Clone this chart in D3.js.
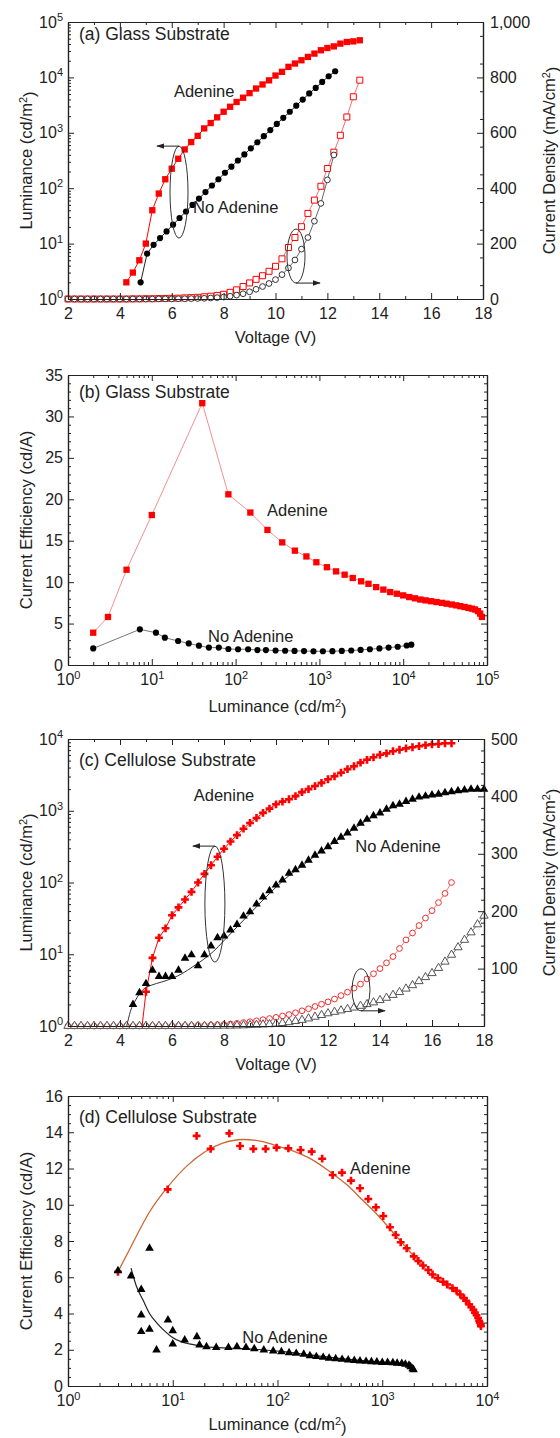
<!DOCTYPE html>
<html>
<head>
<meta charset="utf-8">
<script src="https://cdn.jsdelivr.net/npm/d3@7"></script>
<style>
body { margin: 0; background: #fff; }
</style>
</head>
<body>
<div id="chart"></div>
<script>
// ---------- data ----------

// (a) glass substrate, luminance vs voltage
var voltAdA = [4.25,4.5,4.75,5,5.25,5.5,5.75,6,6.25,6.5,6.75,7,7.25,7.5,7.75,8,8.25,8.5,8.75,9,9.25,9.5,9.75,10,10.25,10.5,10.75,11,11.25,11.5,11.75,12,12.25,12.5,12.75,13,13.25];
var lumAdA = [2,3,5,10,40,80,145,225,340,500,680,880,1200,1500,1900,2400,2950,3600,4300,5200,6300,7450,8850,10800,12600,15500,17800,20400,23400,26900,30900,33900,36300,40700,43600,44700,46800];
var voltNoA = [4.8,5.05,5.3,5.55,5.8,6.05,6.3,6.55,6.8,7.05,7.3,7.55,7.8,8.05,8.3,8.55,8.8,9.05,9.3,9.55,9.8,10.05,10.3,10.55,10.8,11.05,11.3,11.55,11.8,12.05,12.3];
var lumNoA = [2,6.6,9.5,12.6,16.6,22,29,38,50,65,85,112,145,190,245,316,407,525,676,870,1120,1445,1860,2400,3090,3980,5130,6460,8300,10500,12900];
// (a) current density vs voltage
var voltJAdA = [2,2.25,2.5,2.75,3,3.25,3.5,3.75,4,4.25,4.5,4.75,5,5.25,5.5,5.75,6,6.25,6.5,6.75,7,7.25,7.5,7.75,8,8.25,8.5,8.75,9,9.25,9.5,9.75,10,10.25,10.5,10.75,11,11.25,11.5,11.75,12,12.25,12.5,12.75,13,13.25];
var jAdA = [0,0,0,0,0,0,0,0,0,0,0.5,0.5,1,1,1.5,2,2.5,3,4,5,6,8,10,13,17,24,33,45,58,71,84,100,118,145,186,222,261,309,357,407,471,530,591,657,730,790];
var voltJNoA = [2,2.25,2.5,2.75,3,3.25,3.5,3.75,4,4.25,4.5,4.75,5,5.25,5.5,5.75,6,6.25,6.5,6.75,7,7.25,7.5,7.75,8,8.25,8.5,8.75,9,9.25,9.5,9.75,10,10.25,10.5,10.75,11,11.25,11.5,11.75,12,12.25];
var jNoA = [0,0,0,0,0,0,0,0,0,0,0,0,0,0,0.5,0.5,0.5,1,1,1.5,2,2.5,3.5,5,7,10,14,19,26,35,45,56,70,88,112,141,180,222,281,345,430,520];

// (b) glass substrate, efficiency vs luminance
var lumAdB = [2,3,5,10,40,82,150,240,360,510,700,920,1230,1580,2000,2500,3150,3850,4750,5800,7000,8400,10000,11800,13800,16000,18500,21500,25000,29000,33000,38000,43000,48000,54000,60000,66000,72000,78000,83000,87000];
var ceAdB = [3.9,5.8,11.5,18.1,31.6,20.6,18.4,16.3,14.8,13.8,13.1,12.4,11.8,11.3,10.9,10.5,10.1,9.8,9.4,9.1,8.8,8.6,8.4,8.2,8.05,7.9,7.8,7.7,7.6,7.5,7.4,7.3,7.2,7.1,7.0,6.9,6.8,6.7,6.5,6.2,5.8];
var lumNoB = [2,7.2,11.2,14.3,20.6,27.6,36.5,48,63,82,107,141,182,230,300,390,505,655,850,1100,1430,1850,2400,3100,4000,5200,6700,8600,11000,12500];
var ceNoB = [2.0,4.3,3.9,3.3,2.9,2.6,2.33,2.1,2.1,1.93,1.9,1.9,1.8,1.8,1.75,1.72,1.7,1.68,1.66,1.66,1.67,1.7,1.75,1.82,1.9,2.0,2.1,2.2,2.35,2.45];

// (c) cellulose substrate, luminance vs voltage
var voltAdC = [5,5.25,5.5,5.75,6,6.25,6.5,6.75,7,7.25,7.5,7.75,8,8.25,8.5,8.75,9,9.25,9.5,9.75,10,10.25,10.5,10.75,11,11.25,11.5,11.75,12,12.25,12.5,12.75,13,13.25,13.5,13.75,14,14.25,14.5,14.75,15,15.25,15.5,15.75,16,16.25,16.5,16.75];
var lumAdC = [3.0,8.9,17,23,35,45,58,74,100,132,174,229,295,372,457,562,676,794,933,1070,1230,1340,1445,1600,1820,2000,2210,2450,2750,3020,3390,3800,4170,4680,5130,5560,6030,6310,6760,7080,7410,7670,7940,8220,8410,8510,8710,8710];
var onsetAdC = [4.85, 1]; // where the red trace leaves the axis
var voltNoC = [4.5,4.75,5,5.25,5.5,5.75,6,6.25,6.5,6.75,7,7.25,7.5,7.75,8,8.25,8.5,8.75,9,9.25,9.5,9.75,10,10.25,10.5,10.75,11,11.25,11.5,11.75,12,12.25,12.5,12.75,13,13.25,13.5,13.75,14,14.25,14.5,14.75,15,15.25,15.5,15.75,16,16.25,16.5,16.75,17,17.25,17.5,17.75,18];
var lumNoC = [2.0,2.9,3.9,6.0,4.9,4.9,4.9,6.0,8.8,9.8,6.9,9.8,13,17,18,21.8,26,34,39,50,63,77,92,108,135,151,174,204,240,275,316,372,427,490,569,668,759,851,933,1047,1175,1230,1350,1445,1550,1600,1660,1700,1780,1840,1905,1950,1995,2000,2000];
var voltFitNoC = [4.26,4.4,4.6,4.88,5.2,5.6,6.0,6.4,6.8,7.2,7.6,8.0,8.5,9,9.5,10,10.5,11,11.5,12,12.5,13,13.5,14,14.5,15,15.5,16,16.5,17,17.5,18];
var lumFitNoC = [1,1.6,2.3,3.2,3.7,4.1,4.6,5.4,6.7,8.4,11,15.5,24,37,57,86,125,170,235,315,420,560,740,930,1120,1320,1510,1660,1780,1890,1970,2010];
// (c) current density vs voltage
var voltJAdC = [2,2.25,2.5,2.75,3,3.25,3.5,3.75,4,4.25,4.5,4.75,5,5.25,5.5,5.75,6,6.25,6.5,6.75,7,7.25,7.5,7.75,8,8.25,8.5,8.75,9,9.25,9.5,9.75,10,10.25,10.5,10.75,11,11.25,11.5,11.75,12,12.25,12.5,12.75,13,13.25,13.5,13.75,14,14.25,14.5,14.75,15,15.25,15.5,15.75,16,16.25,16.5,16.75];
var jAdC = [0,0,0,0,0,0,0,0,0,0,0,0,0,0,0,0,0,0.5,0.5,0.5,1,1,1.5,2,2.5,3.5,4.5,6,7.5,9,11,13,15,17.5,20,23,26.5,30,34,38,42,47,53,59,66,73,82,91,100,110,121,135,150,162,175,188,201,215,231,250];
var voltJNoC = [2,2.25,2.5,2.75,3,3.25,3.5,3.75,4,4.25,4.5,4.75,5,5.25,5.5,5.75,6,6.25,6.5,6.75,7,7.25,7.5,7.75,8,8.25,8.5,8.75,9,9.25,9.5,9.75,10,10.25,10.5,10.75,11,11.25,11.5,11.75,12,12.25,12.5,12.75,13,13.25,13.5,13.75,14,14.25,14.5,14.75,15,15.25,15.5,15.75,16,16.25,16.5,16.75,17,17.25,17.5,17.75,18];
var jNoC = [0,0,0,0,0,0,0,0,0,0,0,0,0,0,0,0,0,0,0,0,0,0,0.2,0.3,0.5,0.5,0.8,1,1.5,2,2.5,3,4,5,6.5,8.5,10.5,13,16,19,22,24.5,27,29.5,32,35,38,41,45,49,54,59,65,71,78,85,92,101,112,124,137,150,163,177,192];

// (d) cellulose substrate, efficiency vs luminance
var lumAdD = [3,8.95,16.9,23,34.7,43.9,58.8,77,98,127,166,212,267,336,413,503,613,736,871,1023,1186,1343,1500,1711,2000,2210,2450,2750,3020,3390,3800,4170,4680,5130,5560,6030,6310,6760,7080,7410,7670,7940,8220,8410,8510,8710,8750];
var ceAdD = [6.3,10.85,13.8,13.08,13.94,13.24,13.08,13.08,13.15,13.11,13.02,12.93,12.54,11.64,11.77,11.33,10.91,10.32,9.86,9.38,8.76,8.33,7.93,7.6,7.15,6.9,6.65,6.4,6.15,5.95,5.75,5.6,5.4,5.25,5.05,4.85,4.7,4.5,4.35,4.2,4.05,3.9,3.75,3.6,3.5,3.4,3.3];
var lumFitAdD = [3,4,6,9,14,20,30,47,70,105,150,220,320,460,650,950,1300,1710,2300,3000,4000,5000,6000,7000,8000,8700];
var ceFitAdD = [6.3,7.7,9.6,11.0,12.2,12.9,13.4,13.6,13.5,13.2,12.9,12.45,11.8,11.1,10.25,9.3,8.4,7.6,6.8,6.1,5.6,5.2,4.85,4.4,3.9,3.4];
var lumNoD = [3,4,5,5,5,6,6,7,9,10,10,13,17,18,21,26,34,41,50,60,74,91,109,129,151,178,204,235,273,311,359,414,473,541,613,700,788,888,1000,1124,1262,1387,1537,1663,1800,1865,1950,1990];
var ceNoD = [6.36,6.07,5.33,3.92,3.0,7.6,3.13,1.99,3.64,3.05,2.32,2.54,2.72,2.26,2.17,2.13,2.13,2.17,2.13,2.06,1.99,1.93,1.89,1.84,1.80,1.75,1.67,1.62,1.58,1.53,1.50,1.47,1.44,1.41,1.38,1.36,1.34,1.32,1.30,1.30,1.28,1.26,1.24,1.20,1.15,1.06,0.95,0.90];
var lumFitNoD = [4,4.5,5.2,6,7.1,8.5,9.7,12,14.4,20,25,40,70,120,200,350,600,1000,1500,1800,1990];
var ceFitNoD = [6.5,5.5,4.74,4.0,3.46,3.0,2.72,2.45,2.32,2.18,2.13,2.08,2.0,1.88,1.72,1.55,1.42,1.32,1.25,1.18,1.0];

// tick labels
var voltTicks = [2,4,6,8,10,12,14,16,18];
var jTicksA = [0,200,400,600,800,1000];
var jTicksC = [100,200,300,400,500];
var ceTicksB = [0,5,10,15,20,25,30,35];
var ceTicksD = [0,2,4,6,8,10,12,14,16];

// ---------- drawing ----------
var FONT = "'Liberation Sans', Arial, Helvetica, sans-serif";
var INK = '#222';
var RED = '#ff0000';

var svg = d3.select('#chart')
  .append('svg')
  .attr('width', 560)
  .attr('height', 1438)
  .style('font-family', FONT);

svg.append('defs').append('marker')
  .attr('id', 'arrow')
  .attr('viewBox', '0 0 10 10')
  .attr('refX', 9).attr('refY', 5)
  .attr('markerWidth', 8).attr('markerHeight', 8)
  .attr('markerUnits', 'userSpaceOnUse')
  .attr('orient', 'auto')
  .append('path')
  .attr('d', 'M0,1.5L10,5L0,8.5z')
  .attr('fill', INK);

function minorLog(lo, hi) {
  var out = [];
  for (var e = lo; e < hi; e++) {
    for (var m = 2; m < 10; m++) out.push(m * Math.pow(10, e));
  }
  return out;
}
function decades(lo, hi) {
  return d3.range(lo, hi + 1).map(function(e) { return Math.pow(10, e); });
}

function styleAxis(g) {
  g.attr('font-size', 16).attr('font-family', FONT).style('color', INK);
  g.selectAll('.tick line').attr('stroke-width', 1);
  g.select('.domain').attr('stroke-width', 1.2);
  return g;
}

function supLabels(g) {
  g.selectAll('.tick text').each(function(d) {
    var t = d3.select(this);
    t.text('10');
    t.append('tspan')
      .attr('dy', '-0.6em')
      .attr('font-size', 11)
      .text(Math.round(Math.log10(d)));
  });
}

// one axis = majors (labelled or not) + minors
function addAxis(g, make, scale, pos, majors, minors, labelFmt, pad, isLog) {
  var tr = (make === d3.axisBottom || make === d3.axisTop) ?
    'translate(0,' + pos + ')' : 'translate(' + pos + ',0)';
  var ax = make(scale).tickValues(majors).tickSizeInner(-6).tickSizeOuter(0)
    .tickPadding(pad || 0)
    .tickFormat(labelFmt ? labelFmt : '');
  var gm = styleAxis(g.append('g').attr('transform', tr).call(ax));
  if (labelFmt && isLog) supLabels(gm);
  if (minors && minors.length) {
    styleAxis(g.append('g').attr('transform', tr)
      .call(make(scale).tickValues(minors).tickSize(-3).tickSizeOuter(0).tickFormat('')));
  }
}

function symbols(g, xs, ys, x, y, type, size, fill, stroke) {
  g.append('g').selectAll('path')
    .data(d3.zip(xs, ys))
    .enter()
    .append('path')
    .attr('transform', function(d) {
      return 'translate(' + x(d[0]) + ',' + y(d[1]) + ')';
    })
    .attr('d', d3.symbol().type(type).size(size))
    .attr('fill', fill)
    .attr('stroke', stroke || 'none')
    .attr('stroke-width', 1);
}

function trace(g, xs, ys, x, y, color, width, curve) {
  g.append('path')
    .datum(d3.zip(xs, ys))
    .attr('fill', 'none')
    .attr('stroke', color)
    .attr('stroke-width', width)
    .attr('d', d3.line()
      .curve(curve || d3.curveLinear)
      .x(function(d) { return x(d[0]); })
      .y(function(d) { return y(d[1]); }));
}

function label(g, px, py, txt, anchor, size) {
  return g.append('text')
    .attr('x', px).attr('y', py)
    .attr('dy', '0.35em')
    .attr('text-anchor', anchor || 'start')
    .attr('font-size', size || 16.5)
    .attr('fill', INK)
    .text(txt);
}

// rotated axis title with a superscript 2
function yTitle(g, px, py, before, sup, after) {
  var t = g.append('text')
    .attr('transform', 'translate(' + px + ',' + py + ') rotate(-90)')
    .attr('text-anchor', 'middle')
    .attr('font-size', 16.5)
    .attr('fill', INK)
    .text(before);
  if (sup) {
    t.append('tspan').attr('dy', '-0.5em').attr('font-size', 11).text(sup);
    t.append('tspan').attr('dy', '0.5em').text(after);
  }
  return t;
}
function xTitle(g, px, py, before, sup, after) {
  var t = g.append('text')
    .attr('x', px).attr('y', py)
    .attr('text-anchor', 'middle')
    .attr('font-size', 16.5)
    .attr('fill', INK)
    .text(before);
  if (sup) {
    t.append('tspan').attr('dy', '-0.5em').attr('font-size', 11).text(sup);
    t.append('tspan').attr('dy', '0.5em').text(after);
  }
}

function ringArrow(g, cx, cy, rx, ry, fromTop, dir, len) {
  g.append('ellipse')
    .attr('cx', cx).attr('cy', cy).attr('rx', rx).attr('ry', ry)
    .attr('fill', 'none').attr('stroke', '#333').attr('stroke-width', 1);
  var ay = fromTop ? cy - ry : cy + ry;
  g.append('line')
    .attr('x1', cx).attr('y1', ay)
    .attr('x2', cx + dir * len).attr('y2', ay)
    .attr('stroke', INK).attr('stroke-width', 1)
    .attr('marker-end', 'url(#arrow)');
}

var left = 68;
var fmtComma = d3.format(',');
var fmtInt = d3.format('d');

// ===== (a) =====
(function() {
  var top = 22, bottom = 299, right = 483;
  var g = svg.append('g');
  var x = d3.scaleLinear().domain([2, 18]).range([left, right]);
  var yL = d3.scaleLog().domain([1, 1e5]).range([bottom, top]);
  var yJ = d3.scaleLinear().domain([0, 1000]).range([bottom, top]);

  trace(g, voltJAdA, jAdA, x, yJ, '#f07070', 1);
  trace(g, voltJNoA, jNoA, x, yJ, '#666', 1);
  symbols(g, voltJAdA, jAdA, x, yJ, d3.symbolSquare, 36, '#fff', RED);
  symbols(g, voltJNoA, jNoA, x, yJ, d3.symbolCircle, 26, '#fff', '#333');

  trace(g, voltAdA, lumAdA, x, yL, RED, 1);
  trace(g, voltNoA, lumNoA, x, yL, INK, 1);
  symbols(g, voltAdA, lumAdA, x, yL, d3.symbolSquare, 40, RED);
  symbols(g, voltNoA, lumNoA, x, yL, d3.symbolCircle, 30, '#000');

  addAxis(g, d3.axisBottom, x, bottom, voltTicks, [3,5,7,9,11,13,15,17], fmtInt, 9);
  addAxis(g, d3.axisTop, x, top, voltTicks, [3,5,7,9,11,13,15,17]);
  addAxis(g, d3.axisLeft, yL, left, decades(0, 5), minorLog(0, 5), fmtInt, 5, true);
  addAxis(g, d3.axisRight, yJ, right, jTicksA, d3.range(50, 1000, 100), fmtComma, 7);

  xTitle(g, (left + right) / 2, bottom + 44, 'Voltage (V)');
  yTitle(g, 32, (top + bottom) / 2, 'Luminance (cd/m', '2', ')');
  yTitle(g, 555, (top + bottom) / 2, 'Current Density (mA/cm', '2', ')');

  label(g, 79, top + 12, '(a) Glass Substrate', 'start', 17.5);
  label(g, x(7.25), yL(5600), 'Adenine', 'middle');
  label(g, x(6.82), yL(46), 'No Adenine', 'start');

  ringArrow(g, x(6.28), yL(85), 9, 46, true, -1, 22);
  ringArrow(g, x(10.79), yJ(155), 9, 27, false, 1, 24);
})();

// ===== (b) =====
(function() {
  var top = 375, bottom = 665, right = 487;
  var g = svg.append('g');
  var x = d3.scaleLog().domain([1, 1e5]).range([left, right]);
  var y = d3.scaleLinear().domain([0, 35]).range([bottom, top]);

  trace(g, lumAdB, ceAdB, x, y, '#f49090', 1);
  trace(g, lumNoB, ceNoB, x, y, '#777', 1);
  symbols(g, lumAdB, ceAdB, x, y, d3.symbolSquare, 40, RED);
  symbols(g, lumNoB, ceNoB, x, y, d3.symbolCircle, 30, '#000');

  var yMinor = d3.range(1, 35).filter(function(v) { return v % 5 !== 0; });
  addAxis(g, d3.axisBottom, x, bottom, decades(0, 5), minorLog(0, 5), fmtInt, 9, true);
  addAxis(g, d3.axisTop, x, top, decades(0, 5), minorLog(0, 5));
  addAxis(g, d3.axisLeft, y, left, ceTicksB, yMinor, fmtInt, 5);
  addAxis(g, d3.axisRight, y, right, ceTicksB, yMinor);

  xTitle(g, (left + right) / 2, bottom + 47, 'Luminance (cd/m', '2', ')');
  yTitle(g, 32, (top + bottom) / 2, 'Current Efficiency (cd/A)');

  label(g, 79, top + 17, '(b) Glass Substrate', 'start', 17.5);
  label(g, x(237), y(18.7), 'Adenine', 'start');
  label(g, x(47), y(3.5), 'No Adenine', 'start');
})();

// ===== (c) =====
(function() {
  var top = 739, bottom = 1026, right = 484;
  var g = svg.append('g');
  var x = d3.scaleLinear().domain([2, 18]).range([left, right]);
  var yL = d3.scaleLog().domain([1, 1e4]).range([bottom, top]);
  var yJ = d3.scaleLinear().domain([0, 500]).range([bottom, top]);

  trace(g, voltJAdC, jAdC, x, yJ, '#f08080', 1);
  trace(g, voltJNoC, jNoC, x, yJ, '#777', 1);
  symbols(g, voltJAdC, jAdC, x, yJ, d3.symbolCircle, 26, '#fff', '#f03030');
  symbols(g, voltJNoC, jNoC, x, yJ, d3.symbolTriangle, 30, '#fff', '#555');

  trace(g, [onsetAdC[0]].concat(voltAdC), [onsetAdC[1]].concat(lumAdC), x, yL, RED, 1);
  trace(g, voltFitNoC, lumFitNoC, x, yL, '#333', 1, d3.curveMonotoneX);
  symbols(g, voltAdC, lumAdC, x, yL, d3.symbolCross, 34, RED);
  symbols(g, voltNoC, lumNoC, x, yL, d3.symbolTriangle, 32, '#000');

  addAxis(g, d3.axisBottom, x, bottom, voltTicks, [3,5,7,9,11,13,15,17], fmtInt, 9);
  addAxis(g, d3.axisTop, x, top, voltTicks, [3,5,7,9,11,13,15,17]);
  addAxis(g, d3.axisLeft, yL, left, decades(0, 4), minorLog(0, 4), fmtInt, 5, true);
  var jMinor = d3.range(20, 500, 20).filter(function(v) { return v % 100 !== 0; });
  addAxis(g, d3.axisRight, yJ, right, jTicksC, jMinor, fmtInt, 7);

  xTitle(g, (left + right) / 2, bottom + 44, 'Voltage (V)');
  yTitle(g, 32, (top + bottom) / 2, 'Luminance (cd/m', '2', ')');
  yTitle(g, 555, (top + bottom) / 2, 'Current Density (mA/cm', '2', ')');

  label(g, 79, top + 21, '(c) Cellulose Substrate', 'start', 17.5);
  label(g, x(8.0), yL(1660), 'Adenine', 'middle');
  label(g, x(14.69), yL(323), 'No Adenine', 'middle');

  ringArrow(g, x(7.65), yL(50), 10, 58, true, -1, 22);
  ringArrow(g, x(13.27), yJ(63), 9, 21, false, 1, 24);
})();

// ===== (d) =====
(function() {
  var top = 1096, bottom = 1386, right = 487;
  var g = svg.append('g');
  var x = d3.scaleLog().domain([1, 1e4]).range([left, right]);
  var y = d3.scaleLinear().domain([0, 16]).range([bottom, top]);

  trace(g, lumFitAdD, ceFitAdD, x, y, '#cc6633', 1.3, d3.curveMonotoneX);
  trace(g, lumFitNoD, ceFitNoD, x, y, '#222', 1.2, d3.curveMonotoneX);
  symbols(g, lumAdD, ceAdD, x, y, d3.symbolCross, 34, RED);
  symbols(g, lumNoD, ceNoD, x, y, d3.symbolTriangle, 32, '#000');

  var yMinor = d3.range(0.5, 16, 0.5).filter(function(v) { return v % 2 !== 0; });
  addAxis(g, d3.axisBottom, x, bottom, decades(0, 4), minorLog(0, 4), fmtInt, 9, true);
  addAxis(g, d3.axisTop, x, top, decades(0, 4), minorLog(0, 4));
  addAxis(g, d3.axisLeft, y, left, ceTicksD, yMinor, fmtInt, 5);
  addAxis(g, d3.axisRight, y, right, ceTicksD, yMinor);

  xTitle(g, (left + right) / 2, bottom + 44, 'Luminance (cd/m', '2', ')');
  yTitle(g, 32, (top + bottom) / 2, 'Current Efficiency (cd/A)');

  label(g, 79, top + 21, '(d) Cellulose Substrate', 'start', 17.5);
  label(g, x(493), y(12.0), 'Adenine', 'start');
  label(g, x(118), y(2.7), 'No Adenine', 'middle');
})();
</script>
</body>
</html>
